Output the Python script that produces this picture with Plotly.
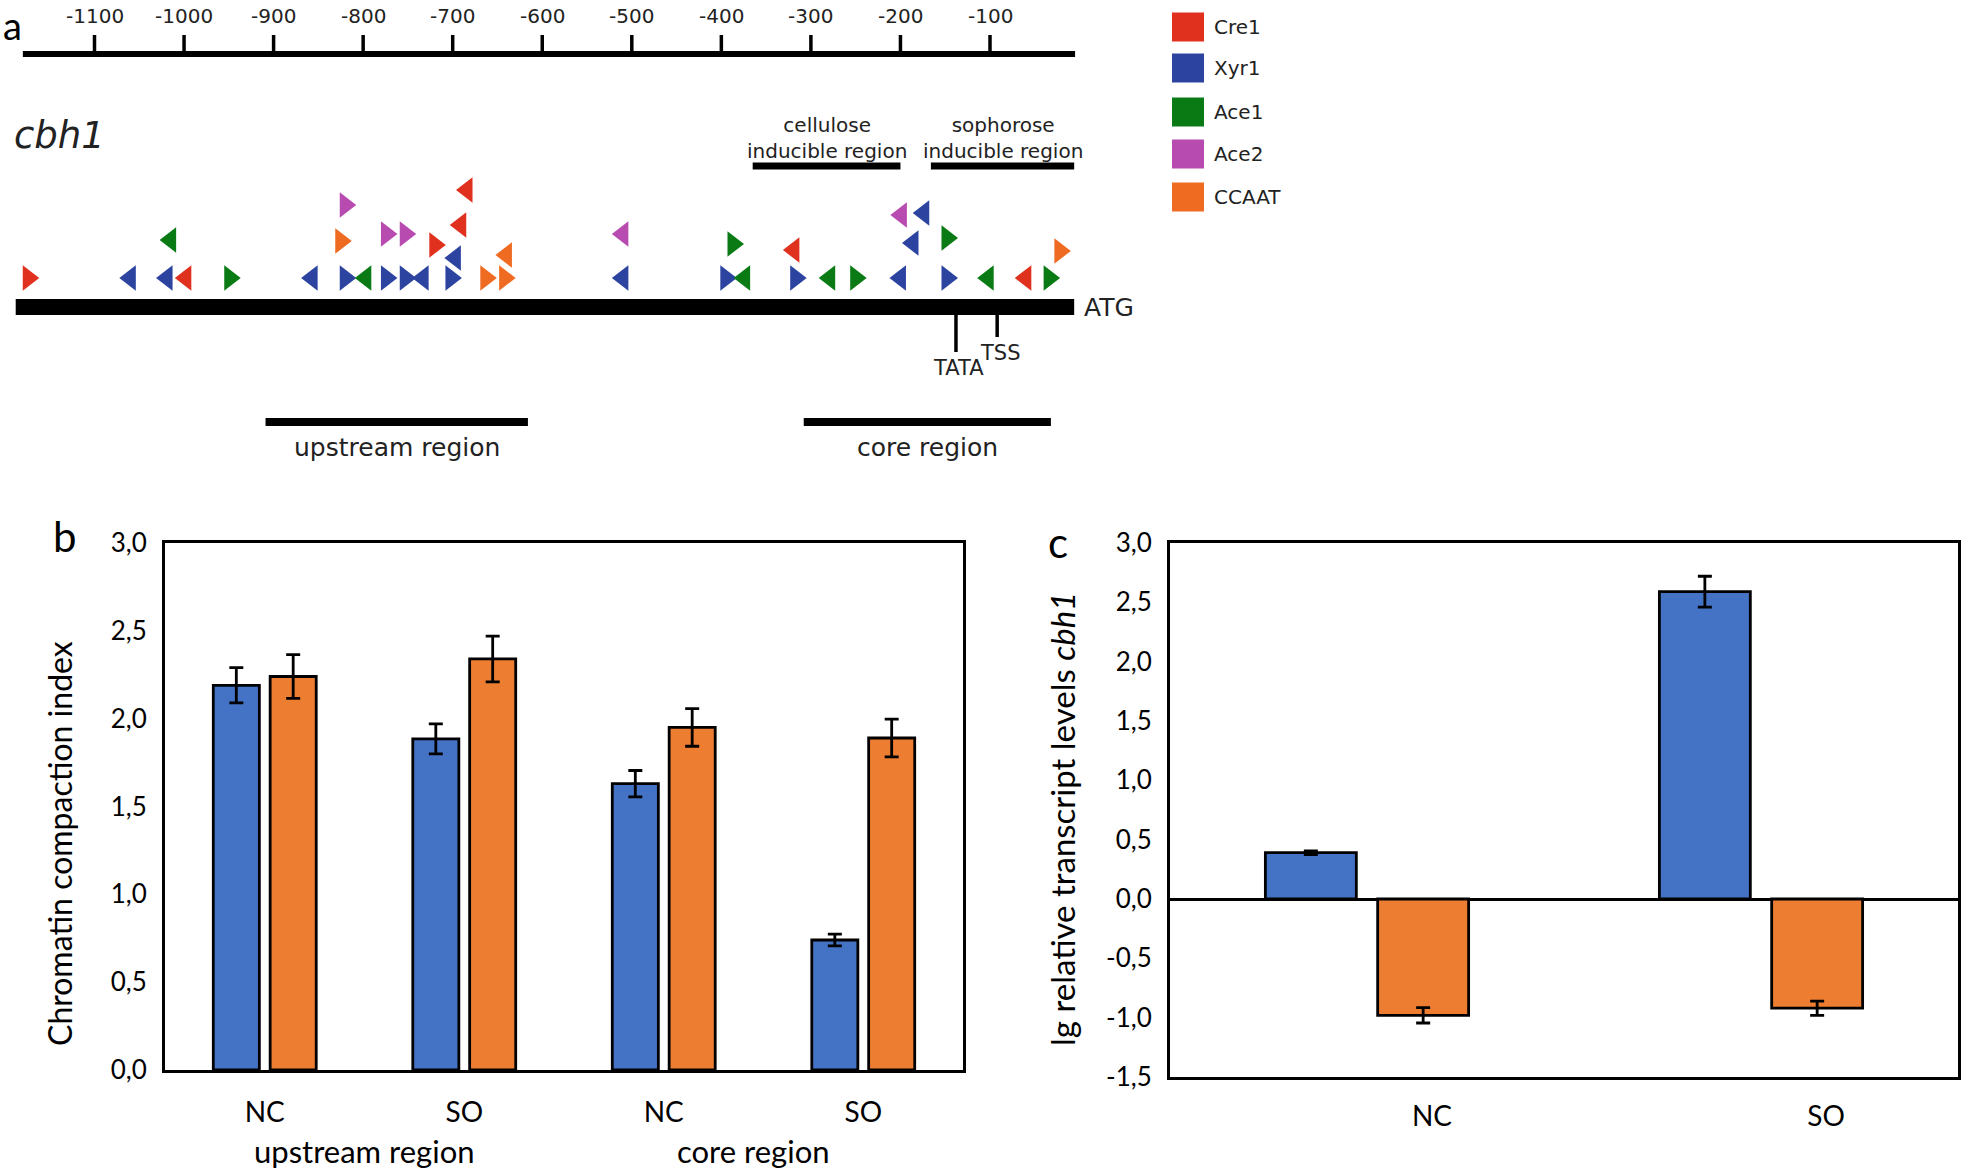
import plotly.graph_objects as go

W, H = 1961, 1174

# ---------------- panel a data ----------------
factors = ["Cre1", "Xyr1", "Ace1", "Ace2", "CCAAT"]
factor_colors = ["#E0301E", "#2C44A0", "#0A7B14", "#B84BB0", "#EF6B21"]

# binding sites: position (bp upstream of ATG), strand (R/L), stack offset above the baseline row
cre1_pos = [-1174, -998, -720, -691, -684, -319, -60]
cre1_dir = ["R", "L", "R", "L", "L", "L", "L"]
cre1_lvl = [0, 0, 33, 53, 88, 28, 0]

xyr1_pos = [-1060, -1019, -857, -820, -774, -753, -733, -702, -697, -510, -395, -317, -200, -186, -174, -148]
xyr1_dir = ["L", "L", "L", "R", "R", "R", "L", "R", "L", "L", "R", "R", "L", "L", "L", "R"]
xyr1_lvl = [0, 0, 0, 0, 0, 0, 0, 0, 20, 0, 0, 0, 0, 35, 65, 0]

ace1_pos = [-1015, -949, -797, -387, -374, -279, -250, -148, -102, -34]
ace1_dir = ["L", "R", "L", "R", "L", "L", "R", "R", "L", "R"]
ace1_lvl = [38, 0, 0, 34, 0, 0, 0, 40, 0, 0]

ace2_pos = [-820, -774, -753, -510, -199]
ace2_dir = ["R", "R", "R", "L", "L"]
ace2_lvl = [73, 44, 44, 44, 63]

ccaat_pos = [-825, -663, -642, -640, -22]
ccaat_dir = ["R", "R", "R", "L", "R"]
ccaat_lvl = [37, 0, 0, 23, 27]

sites = [
    (cre1_pos, cre1_dir, cre1_lvl),
    (xyr1_pos, xyr1_dir, xyr1_lvl),
    (ace1_pos, ace1_dir, ace1_lvl),
    (ace2_pos, ace2_dir, ace2_lvl),
    (ccaat_pos, ccaat_dir, ccaat_lvl),
]

ruler_ticks = [-1100, -1000, -900, -800, -700, -600, -500, -400, -300, -200, -100]
ruler_span = [-1180, -5]
gene_span = [-1188, -6]

inducible_names = ["cellulose<br>inducible region", "sophorose<br>inducible region"]
inducible_start = [-365, -166]
inducible_end = [-200, -6]

analysed_names = ["upstream region", "core region"]
analysed_start = [-909, -308]
analysed_end = [-616, -32]

tata_pos, tss_pos = -138, -92

# ---------------- panel b data ----------------
b_groups = ["upstream region", "upstream region", "core region", "core region"]
b_conditions = ["NC", "SO", "NC", "SO"]
b_blue = [2.19, 1.885, 1.63, 0.74]
b_blue_err = [0.10, 0.085, 0.075, 0.033]
b_orange = [2.24, 2.34, 1.95, 1.89]
b_orange_err = [0.125, 0.13, 0.107, 0.107]

# ---------------- panel c data ----------------
c_conditions = ["NC", "SO"]
c_blue = [0.39, 2.59]
c_blue_err = [0.015, 0.13]
c_orange = [-0.98, -0.92]
c_orange_err = [0.065, 0.06]

BLUE = "#4472C4"
ORANGE = "#ED7D31"
FONT_B = "Lato"
FONT_A = "DejaVu Sans"
TXT_A = "#222"


def px_x(p):
    return p / W


def px_y(p):
    return 1 - p / H


fig = go.Figure()

# ---- panel a (x3 / y3): x in bp, y in stack units (1 unit = 1 px) ----
BP_PER_PX = 1 / 0.8955
x3_range = [-100 - 990 * BP_PER_PX, -100 + (W - 990) * BP_PER_PX]
Y3_TOP_PX = 480
BASE_PX = 278
y3_range = [BASE_PX - Y3_TOP_PX, BASE_PX]

for (pos, dirs, lvls), col in zip(sites, factor_colors):
    for d, sym in (("R", "triangle-right"), ("L", "triangle-left")):
        xs = [p for p, dd in zip(pos, dirs) if dd == d]
        ys = [l for l, dd in zip(lvls, dirs) if dd == d]
        if not xs:
            continue
        fig.add_trace(go.Scatter(
            x=xs, y=ys, mode="markers", xaxis="x3", yaxis="y3",
            marker=dict(symbol=sym, size=22, color=col, line=dict(width=0)),
            showlegend=False, hoverinfo="skip", cliponaxis=False))

shapes = []
annotations = []


def y3(px):
    return BASE_PX - px


def ann(**kw):
    kw.setdefault("showarrow", False)
    kw.setdefault("xanchor", "center")
    kw.setdefault("yanchor", "middle")
    annotations.append(kw)


# ruler
shapes.append(dict(type="line", xref="x3", yref="y3", x0=ruler_span[0], x1=ruler_span[1],
                   y0=y3(54), y1=y3(54), line=dict(color="black", width=6)))
for t in ruler_ticks:
    shapes.append(dict(type="line", xref="x3", yref="y3", x0=t, x1=t, y0=y3(54), y1=y3(35),
                       line=dict(color="black", width=3.5)))
    ann(xref="x3", yref="y3", x=t, y=y3(16), text=str(t), font=dict(family=FONT_A, size=20, color=TXT_A))

# gene bar
shapes.append(dict(type="rect", xref="x3", yref="y3", x0=gene_span[0], x1=gene_span[1],
                   y0=y3(315), y1=y3(299), fillcolor="black", line=dict(width=0)))
ann(xref="x3", yref="y3", x=gene_span[1] + 9, y=y3(307), text="ATG", xanchor="left",
    font=dict(family=FONT_A, size=25, color=TXT_A))
# TATA / TSS
shapes.append(dict(type="line", xref="x3", yref="y3", x0=tata_pos, x1=tata_pos, y0=y3(314), y1=y3(352),
                   line=dict(color="black", width=3.5)))
shapes.append(dict(type="line", xref="x3", yref="y3", x0=tss_pos, x1=tss_pos, y0=y3(314), y1=y3(337),
                   line=dict(color="black", width=3.5)))
ann(xref="x3", yref="y3", x=tata_pos + 3, y=y3(368), text="TATA", font=dict(family=FONT_A, size=21, color=TXT_A))
ann(xref="x3", yref="y3", x=tss_pos + 4, y=y3(353), text="TSS", font=dict(family=FONT_A, size=21, color=TXT_A))

# inducible regions
for name, s, e in zip(inducible_names, inducible_start, inducible_end):
    shapes.append(dict(type="line", xref="x3", yref="y3", x0=s, x1=e, y0=y3(166), y1=y3(166),
                       line=dict(color="black", width=7)))
    ann(xref="x3", yref="y3", x=(s + e) / 2, y=y3(138), text=name, font=dict(family=FONT_A, size=20, color=TXT_A))

# analysed regions
for name, s, e in zip(analysed_names, analysed_start, analysed_end):
    shapes.append(dict(type="line", xref="x3", yref="y3", x0=s, x1=e, y0=y3(422), y1=y3(422),
                       line=dict(color="black", width=8)))
    ann(xref="x3", yref="y3", x=(s + e) / 2, y=y3(447), text=name, font=dict(family=FONT_A, size=25, color=TXT_A))

# cbh1 label and panel letter
ann(xref="paper", yref="paper", x=px_x(12), y=px_y(136), text="<i>cbh1</i>", xanchor="left",
    font=dict(family=FONT_A, size=37, color=TXT_A))
ann(xref="paper", yref="paper", x=px_x(12), y=px_y(0), yanchor="top", text="a",
    font=dict(family=FONT_B, size=38, color="black"))

# legend
leg_y = [27, 68, 112, 154, 197]
for name, col, yy in zip(factors, factor_colors, leg_y):
    shapes.append(dict(type="rect", xref="paper", yref="paper", x0=px_x(1172), x1=px_x(1204),
                       y0=px_y(yy + 14.5), y1=px_y(yy - 14.5), fillcolor=col, line=dict(width=0)))
    ann(xref="paper", yref="paper", x=px_x(1212), y=px_y(yy), text=name, xanchor="left",
        font=dict(family=FONT_A, size=20, color=TXT_A))

# ---- panel b ----
b_x = list(range(len(b_conditions)))
fig.add_trace(go.Bar(x=b_x, y=b_blue, marker=dict(color=BLUE, line=dict(color="black", width=2.8)),
                     error_y=dict(type="data", array=b_blue_err, color="black", thickness=2.8, width=7),
                     xaxis="x", yaxis="y", showlegend=False))
fig.add_trace(go.Bar(x=b_x, y=b_orange, marker=dict(color=ORANGE, line=dict(color="black", width=2.8)),
                     error_y=dict(type="data", array=b_orange_err, color="black", thickness=2.8, width=7),
                     xaxis="x", yaxis="y", showlegend=False))

# group labels
seen = []
for g in b_groups:
    if g not in seen:
        seen.append(g)
for g in seen:
    idx = [i for i, gg in enumerate(b_groups) if gg == g]
    ann(xref="x", yref="paper", x=sum(idx) / len(idx) - (0.05 if idx[0] > 0 else 0),
        y=px_y(1151), text=g, font=dict(family=FONT_B, size=31, color="black"))

ann(xref="paper", yref="paper", x=px_x(59), y=px_y(844), text="Chromatin compaction index",
    textangle=-90, font=dict(family=FONT_B, size=32, color="black"))
ann(xref="paper", yref="paper", x=px_x(65), y=px_y(536), text="b", font=dict(family=FONT_B, size=42, color="black"))

# ---- panel c ----
c_x = list(range(len(c_conditions)))
fig.add_trace(go.Bar(x=c_x, y=c_blue, marker=dict(color=BLUE, line=dict(color="black", width=2.8)),
                     error_y=dict(type="data", array=c_blue_err, color="black", thickness=2.8, width=7),
                     xaxis="x2", yaxis="y2", showlegend=False))
fig.add_trace(go.Bar(x=c_x, y=c_orange, marker=dict(color=ORANGE, line=dict(color="black", width=2.8)),
                     error_y=dict(type="data", array=c_orange_err, color="black", thickness=2.8, width=7),
                     xaxis="x2", yaxis="y2", showlegend=False))

ann(xref="paper", yref="paper", x=px_x(1062), y=px_y(819), text="lg relative transcript levels <i>cbh1</i>",
    textangle=-90, font=dict(family=FONT_B, size=33, color="black"))
ann(xref="paper", yref="paper", x=px_x(1058), y=px_y(542), text="c", font=dict(family=FONT_B, size=42, color="black"))


def comma(v):
    return f"{v:.1f}".replace(".", ",")


b_ticks = [0, 0.5, 1.0, 1.5, 2.0, 2.5, 3.0]
c_ticks = [-1.5, -1.0, -0.5, 0, 0.5, 1.0, 1.5, 2.0, 2.5, 3.0]

axis_common = dict(showgrid=False, showline=True, mirror=True, linecolor="black", linewidth=3,
                   ticks="", fixedrange=True, automargin=False)

fig.update_layout(
    width=W, height=H, autosize=False, margin=dict(l=0, r=0, t=0, b=0, pad=0),
    paper_bgcolor="white", plot_bgcolor="white", showlegend=False,
    barmode="group", bargap=0.43, bargroupgap=0.19,
    shapes=shapes, annotations=annotations,
    xaxis=dict(domain=[px_x(165), px_x(963)], range=[-0.5, 3.5], tickvals=b_x, ticktext=b_conditions,
               tickfont=dict(family=FONT_B, size=28, color="black"), ticklabelstandoff=15,
               zeroline=False, anchor="y", **axis_common),
    yaxis=dict(domain=[px_y(1070), px_y(543)], range=[0, 3], tickvals=b_ticks,
               ticktext=[comma(v) for v in b_ticks], tickfont=dict(family=FONT_B, size=26, color="black"),
               ticklabelstandoff=10, zeroline=False, anchor="x", **axis_common),
    xaxis2=dict(domain=[px_x(1170), px_x(1958)], range=[-0.5, 1.5],
                tickvals=[i + 0.165 for i in c_x], ticktext=c_conditions,
                tickfont=dict(family=FONT_B, size=28, color="black"), ticklabelstandoff=12,
                zeroline=False, anchor="y2", **axis_common),
    yaxis2=dict(domain=[px_y(1077), px_y(543)], range=[-1.5, 3], tickvals=c_ticks,
                ticktext=[comma(v) for v in c_ticks], tickfont=dict(family=FONT_B, size=26, color="black"),
                ticklabelstandoff=10, zeroline=True, zerolinecolor="black", zerolinewidth=3,
                anchor="x2", **axis_common),
    xaxis3=dict(domain=[0, 1], range=x3_range, visible=False, fixedrange=True, anchor="y3", automargin=False),
    yaxis3=dict(domain=[px_y(Y3_TOP_PX), 1], range=y3_range, visible=False, fixedrange=True, anchor="x3",
                automargin=False),
)

fig.write_html(
    "out.html",
    config={"responsive": False, "displayModeBar": False},
    post_script="document.body.style.margin='0';document.body.style.padding='0';"
                "document.documentElement.style.overflow='hidden';",
)
